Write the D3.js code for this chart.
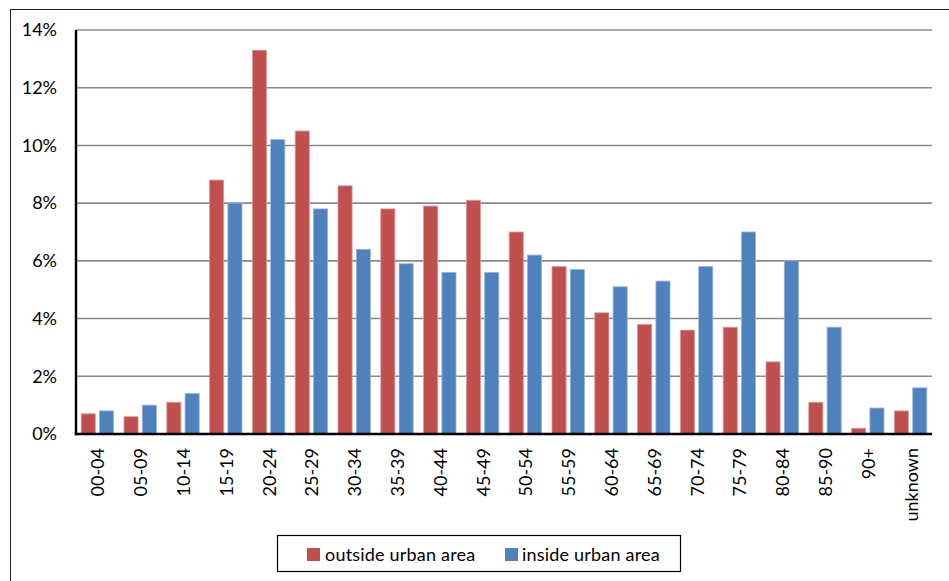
<!DOCTYPE html>
<html>
<head>
<meta charset="utf-8">
<script src="https://cdn.jsdelivr.net/npm/d3@7/dist/d3.min.js"></script>
<style>
  html, body { margin: 0; padding: 0; background: #fff; }
  svg { display: block; font-family: Lato, "Open Sans", sans-serif; }
</style>
</head>
<body>
<svg id="chart" width="949" height="581"></svg>
<script>
// Age groups along the horizontal axis
const categories = ["00-04","05-09","10-14","15-19","20-24","25-29","30-34","35-39","40-44","45-49",
                    "50-54","55-59","60-64","65-69","70-74","75-79","80-84","85-90","90+","unknown"];
// Share of each age group, in percent
const outsideUrban = [0.7,0.6,1.1,8.8,13.3,10.5,8.6,7.8,7.9,8.1,7.0,5.8,4.2,3.8,3.6,3.7,2.5,1.1,0.2,0.8];
const insideUrban  = [0.8,1.0,1.4,8.0,10.2,7.8,6.4,5.9,5.6,5.6,6.2,5.7,5.1,5.3,5.8,7.0,6.0,3.7,0.9,1.6];
const seriesNames = ["outside urban area", "inside urban area"];
const seriesColors = ["#C0504D", "#4F81BD"];
const seriesEdges = ["#DA9A98", "#95B3D7"];
const yTicks = [0, 2, 4, 6, 8, 10, 12, 14];

const svg = d3.select("#chart");
const W = 949, H = 581;
const plot = { left: 76, right: 932, top: 30, bottom: 434 };
const FONT = "Lato, 'Open Sans', sans-serif";
const FS = 18;

// Outer frame (left and top edges visible)
svg.append("rect")
  .attr("x", 10.5).attr("y", 9.5)
  .attr("width", W + 10).attr("height", H + 10)
  .attr("fill", "none").attr("stroke", "#222").attr("stroke-width", 1);

const x0 = d3.scaleBand().domain(categories).range([plot.left, plot.right]).padding(0);
const inner = 5.2;
const x1 = d3.scaleBand().domain([0, 1])
  .range([inner, x0.bandwidth() - inner]).paddingInner(0.23).paddingOuter(0);
const y = d3.scaleLinear().domain([0, 14]).range([plot.bottom, plot.top]);

// Horizontal gridlines
svg.append("g").selectAll("line").data(yTicks.filter(d => d > 0)).join("line")
  .attr("x1", plot.left).attr("x2", plot.right)
  .attr("y1", d => y(d)).attr("y2", d => y(d))
  .attr("stroke", "#8a8a8a").attr("stroke-width", 1.6);

// Y axis labels
const yAxis = d3.axisLeft(y).tickValues(yTicks).tickFormat(d => d + "%").tickSize(0).tickPadding(19);
const gy = svg.append("g").attr("transform", `translate(${plot.left},0)`).call(yAxis);
gy.select(".domain").remove();
gy.selectAll("text").attr("font-size", FS).attr("fill", "#000")
  .attr("font-family", FONT);

// Bars
const rows = categories.map((c, i) => ({ cat: c, vals: [outsideUrban[i], insideUrban[i]] }));
const groups = svg.append("g").selectAll("g").data(rows).join("g")
  .attr("transform", d => `translate(${x0(d.cat)},0)`);
groups.selectAll("rect").data(d => d.vals.map((v, s) => ({ v, s }))).join("rect")
  .attr("x", d => x1(d.s))
  .attr("width", x1.bandwidth())
  .attr("y", d => y(d.v))
  .attr("height", d => y(0) - y(d.v))
  .attr("fill", d => seriesColors[d.s])
  .attr("stroke", d => seriesEdges[d.s])
  .attr("stroke-width", 0.8);

// Axis lines
svg.append("line").attr("x1", plot.left).attr("x2", plot.left)
  .attr("y1", plot.top).attr("y2", plot.bottom + 1.2)
  .attr("stroke", "#000").attr("stroke-width", 2.4);
svg.append("line").attr("x1", plot.left - 1.2).attr("x2", plot.right)
  .attr("y1", plot.bottom).attr("y2", plot.bottom)
  .attr("stroke", "#000").attr("stroke-width", 2.4);

// X axis labels, rotated
const xAxis = d3.axisBottom(x0).tickSize(0).tickPadding(0);
const gx = svg.append("g").attr("transform", `translate(0,${plot.bottom})`).call(xAxis);
gx.select(".domain").remove();
gx.selectAll("text")
  .attr("font-size", FS).attr("fill", "#000")
  .attr("font-family", FONT)
  .attr("text-anchor", "end")
  .attr("dy", null)
  .attr("y", 0)
  .attr("transform", "translate(7,14) rotate(-90)");

// Legend
const lg = svg.append("g");
lg.append("rect").attr("x", 277.5).attr("y", 535.5).attr("width", 403).attr("height", 36)
  .attr("fill", "#fff").attr("stroke", "#000").attr("stroke-width", 1.2);
const legendItems = [{ x: 307, tx: 325 }, { x: 505, tx: 522 }];
legendItems.forEach((it, i) => {
  lg.append("rect").attr("x", it.x).attr("y", 548).attr("width", 13).attr("height", 13)
    .attr("fill", seriesColors[i]);
  lg.append("text").attr("x", it.tx).attr("y", 560.5)
    .attr("font-size", FS).attr("fill", "#000").attr("font-family", FONT)
    .attr("letter-spacing", 0.2)
    .text(seriesNames[i]);
});
</script>
</body>
</html>
